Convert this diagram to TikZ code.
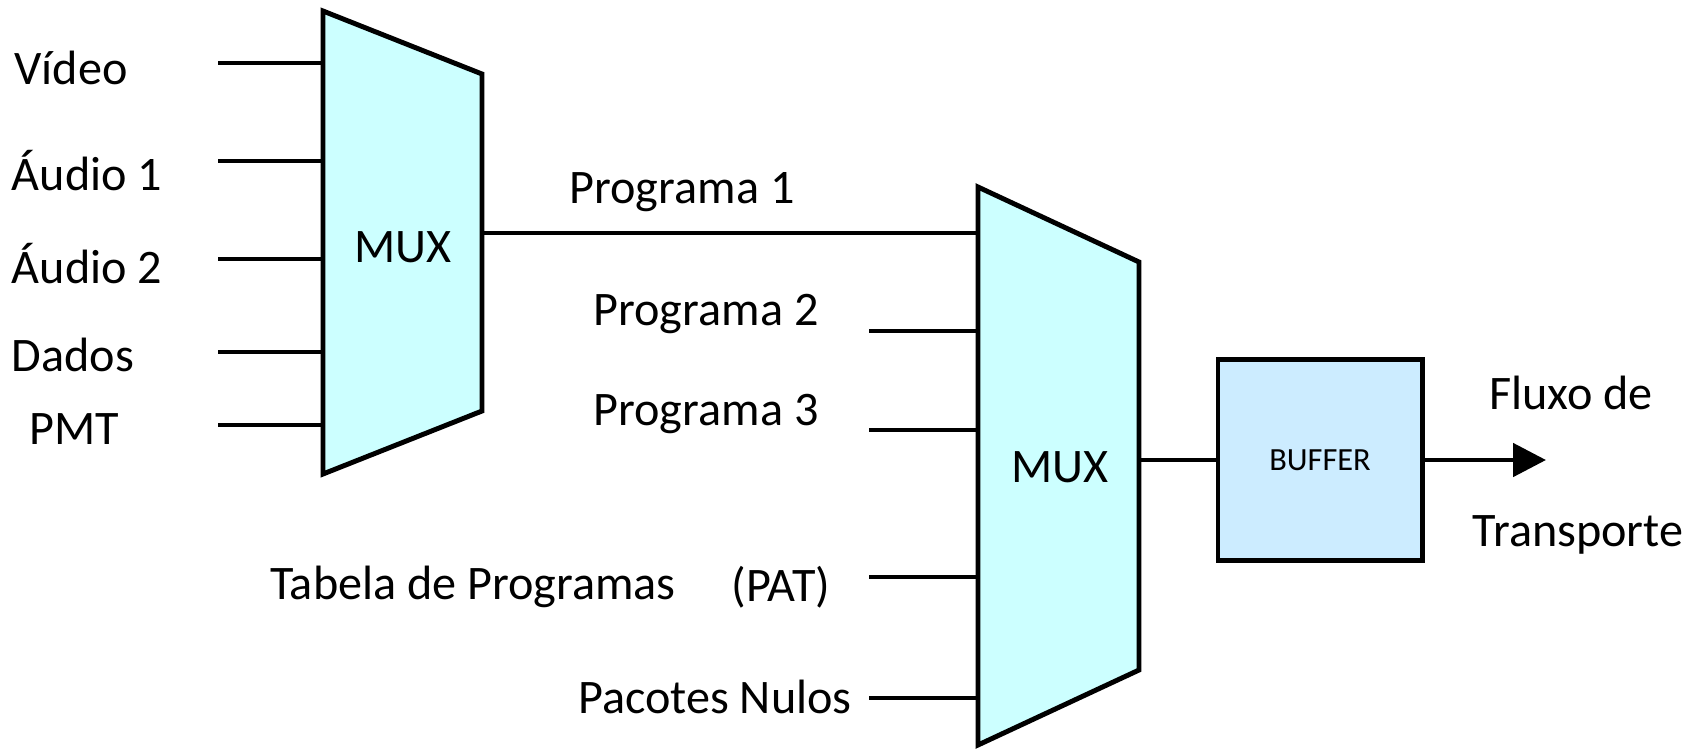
\documentclass[tikz,border=0pt]{standalone}
\usepackage{fontspec}
\setmainfont{Carlito}
\usepackage{xcolor}
\usetikzlibrary{arrows.meta, positioning}

\definecolor{muxcyan}{HTML}{CCFFFF}
\definecolor{bufblue}{HTML}{CCECFF}

\begin{document}
\begin{tikzpicture}[x=0.01cm, y=-0.01cm, line width=1.4pt,
    lbl/.style={font=\fontsize{13.7}{16}\selectfont, inner sep=0pt},
    mux/.style={draw, fill=muxcyan, line join=miter},
    bufbox/.style={draw, fill=bufblue, minimum width=2.04cm, minimum height=2cm,
        font=\fontsize{9.2}{11}\selectfont}]
    \useasboundingbox (0,0) rectangle (1704,748);

    % Multiplexers
    \draw[mux] (323,11) -- (482,74) -- (482,411) -- (323,474) -- cycle;
    \draw[mux] (978,187) -- (1139,262) -- (1139,670) -- (978,745) -- cycle;
    \node[lbl] (mux1) at (403,247) {MUX};
    \node[lbl] (mux2) at (1060,467) {MUX};
    \coordinate (m1w) at (323,0); \coordinate (m1e) at (482,233);
    \coordinate (m2w) at (978,0); \coordinate (m2e) at (1139,460);

    % Buffer
    \node[bufbox] (buf) at (1320,460) {BUFFER};

    % Inputs of the first MUX
    \foreach \y/\n in {63/vid, 161/aud1, 259/aud2, 352/dad, 425/pmt} {
        \coordinate (\n) at (218,\y);
        \draw (\n) -- (\n -| m1w);
    }
    \node[lbl] at (71,68) {Vídeo};
    \node[lbl] at (87,171) {Áudio 1};
    \node[lbl] at (87,264) {Áudio 2};
    \node[lbl] at (73,355) {Dados};
    \node[lbl] at (74,429) {PMT};

    % Inputs of the second MUX
    \draw (m1e) -- (m1e -| m2w);
    \foreach \y/\n in {331/prog2, 430/prog3, 577/pat, 698/nulos} {
        \coordinate (\n) at (869,\y);
        \draw (\n) -- (\n -| m2w);
    }
    \node[lbl] at (682,192) {Programa 1};
    \node[lbl] at (706,314) {Programa 2};
    \node[lbl] at (706,414) {Programa 3};
    \node[lbl] at (473,587) {Tabela de Programas};
    \node[lbl] at (781,587) {(PAT)};
    \node[lbl] at (715,697) {Pacotes Nulos};

    % Output
    \coordinate (out) at (1546,460);
    \draw (m2e) -- (buf.west);
    \draw[-{Triangle[length=0.33cm, width=0.33cm]}] (buf.east) -- (out);
    \node[lbl] at (1571,393) {Fluxo de};
    \node[lbl] at (1578,535) {Transporte};
\end{tikzpicture}
\end{document}
